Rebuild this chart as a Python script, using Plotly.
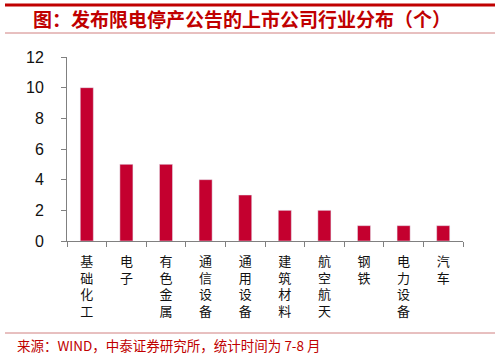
import plotly.graph_objects as go

categories = ["基础化工", "电子", "有色金属", "通信设备", "通用设备", "建筑材料", "航空航天", "钢铁", "电力设备", "汽车"]
counts = [10, 5, 5, 4, 3, 2, 2, 1, 1, 1]
y_ticks = [0, 2, 4, 6, 8, 10, 12]

labels = ["<br>".join(list(c)) for c in categories]

W, H = 500, 357
L, R, T, B = 67, 37, 57, 116
ph = H - T - B  # plot height in px
pw = W - L - R
red = "#C4002F"
dark_red = "#C00000"


def py(y_px):
    return (H - B - y_px) / ph


def px(x_px):
    return (x_px - L) / pw


fig = go.Figure(go.Bar(x=labels, y=counts, marker_color=red, width=0.33))

fig.update_layout(
    width=W, height=H,
    margin=dict(l=L, r=R, t=T, b=B, autoexpand=False),
    paper_bgcolor="white", plot_bgcolor="white",
    showlegend=False,
    font=dict(family="Noto Sans CJK SC", color="#000000"),
    xaxis=dict(
        automargin=False,
        showline=True, linecolor="#808080", linewidth=1,
        ticks="outside", ticklen=5, tickcolor="#808080", tickson="boundaries",
        tickfont=dict(size=13, family="Noto Sans CJK SC", color="#111"),
        ticklabelstandoff=8,
        showgrid=False,
    ),
    yaxis=dict(
        automargin=False,
        range=[0, 12], tickvals=y_ticks, showline=True, linecolor="#808080", linewidth=1,
        ticks="outside", ticklen=5, tickcolor="#808080", showgrid=False, zeroline=False,
        tickfont=dict(size=16, family="Liberation Sans, Arial", color="#111"),
        ticklabelstandoff=14,
    ),
    shapes=[
        dict(type="line", xref="paper", yref="paper", x0=px(5), x1=px(495), y0=py(5), y1=py(5),
             line=dict(color=dark_red, width=3), layer="above"),
        dict(type="line", xref="paper", yref="paper", x0=px(5), x1=px(495), y0=py(33), y1=py(33), line=dict(color="#D08080", width=1)),
        dict(type="line", xref="paper", yref="paper", x0=px(5), x1=px(495), y0=py(333), y1=py(333), line=dict(color="#D08080", width=1)),
    ],
    annotations=[
        dict(text="<b>图：发布限电停产公告的上市公司行业分布（个）</b>", xref="paper", yref="paper",
             x=px(31), y=py(18), xanchor="left", yanchor="middle", showarrow=False,
             font=dict(size=19, color=dark_red, family="Noto Sans CJK SC")),
        dict(text="来源：WIND，中泰证券研究所，统计时间为 7-8 月", xref="paper", yref="paper",
             x=px(15), y=py(345), xanchor="left", yanchor="middle", showarrow=False,
             font=dict(size=13.5, color=dark_red, family="Noto Sans CJK SC")),
    ],
)

fig.write_html("out.html", config={"displayModeBar": False},
               post_script="document.body.style.margin='0';document.body.style.overflow='hidden';")
